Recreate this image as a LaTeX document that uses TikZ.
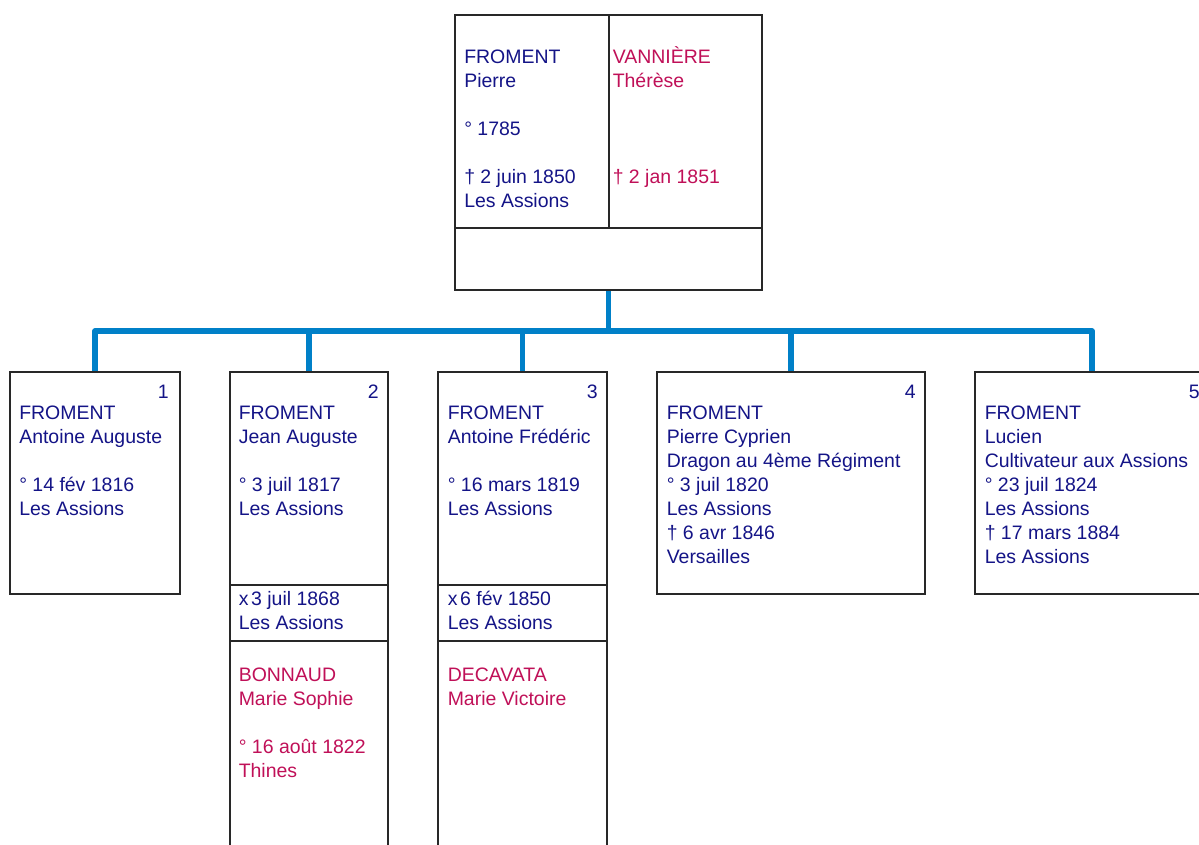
\documentclass[tikz,border=0pt]{standalone}
\usepackage{fontspec}
\setmainfont{Liberation Sans}
\usetikzlibrary{fit}
\definecolor{navy}{RGB}{20,20,135}
\definecolor{rose}{RGB}{192,16,88}
\definecolor{bus}{RGB}{0,128,200}
\definecolor{frame}{RGB}{40,40,40}
\tikzset{
  box/.style={draw=frame, line width=1pt, inner sep=0pt, fill=white},
  conn/.style={draw=bus, line width=3.9pt, line join=round},
  rule/.style={draw=frame, line width=1pt},
  txt/.style={anchor=north west, inner sep=0pt, align=left, font=\fontsize{14.6}{18}\selectfont},
  man/.style={txt, text=navy},
  wom/.style={txt, text=rose},
  num/.style={anchor=base east, inner sep=0pt, text=navy, font=\fontsize{14.6}{18}\selectfont}
}
\begin{document}
\begin{tikzpicture}[x=0.75pt,y=-0.75pt]
\useasboundingbox (0,0) rectangle (1199,845);
\clip (0,0) rectangle (1199,845);
% parent box
\node[box, fit={(455,15) (762,290)}] (p) {};
\draw[rule] (455,228) -- (762,228);
\draw[rule] (609,15) -- (609,228);
\node[man] (pt) at (464,46.5) {\strut FROMENT\\Pierre\\[18pt]° 1785\\[18pt]† 2 juin 1850\\Les Assions};
\node[wom] (pw) at (612.5,46.5) {\strut VANNIÈRE\\Thérèse\\[54pt]† 2 jan 1851};
% children boxes
\node[box, fit={(10,372) (180,594)}] (c1) {};
\node[box, fit={(230,372) (388,870)}] (c2) {};
\node[box, fit={(438,372) (607,870)}] (c3) {};
\node[box, fit={(657,372) (925,594)}] (c4) {};
\node[box, fit={(975,372) (1209,594)}] (c5) {};
\draw[rule] (230,585) -- (388,585);
\draw[rule] (230,641) -- (388,641);
\draw[rule] (438,585) -- (607,585);
\draw[rule] (438,641) -- (607,641);
% connectors
\coordinate (bus) at (608.5,331);
\draw[conn] (p.south) -- (bus);
\draw[conn] (bus) -| (c1.north);
\draw[conn] (bus) -| (c2.north);
\draw[conn] (bus) -| (c3.north);
\draw[conn] (bus) -| (c4.north);
\draw[conn] (bus) -| (c5.north);
% numbers
\node[num] (n1) at (169,398) {1};
\node[num] (n2) at (379,398) {2};
\node[num] (n3) at (598,398) {3};
\node[num] (n4) at (916,398) {4};
\node[num] (n5) at (1200,398) {5};
% texts
\node[man] (t1) at (19,402.2) {\strut FROMENT\\Antoine Auguste\\[18pt]° 14 fév 1816\\Les Assions};
\node[man] (t2) at (238.5,402.2) {\strut FROMENT\\Jean Auguste\\[18pt]° 3 juil 1817\\Les Assions};
\node[man] (m2) at (238.5,588.2) {\strut x\hspace{2pt}3 juil 1868\\Les Assions};
\node[wom] (s2) at (238.5,664.2) {\strut BONNAUD\\Marie Sophie\\[18pt]° 16 août 1822\\Thines};
\node[man] (t3) at (447.5,402.2) {\strut FROMENT\\Antoine Frédéric\\[18pt]° 16 mars 1819\\Les Assions};
\node[man] (m3) at (447.5,588.2) {\strut x\hspace{2pt}6 fév 1850\\Les Assions};
\node[wom] (s3) at (447.5,664.2) {\strut DECAVATA\\Marie Victoire};
\node[man] (t4) at (666.5,402.2) {\strut FROMENT\\Pierre Cyprien\\Dragon au 4ème Régiment\\° 3 juil 1820\\Les Assions\\† 6 avr 1846\\Versailles};
\node[man] (t5) at (984.5,402.2) {\strut FROMENT\\Lucien\\Cultivateur aux Assions\\° 23 juil 1824\\Les Assions\\† 17 mars 1884\\Les Assions};
\end{tikzpicture}
\end{document}
